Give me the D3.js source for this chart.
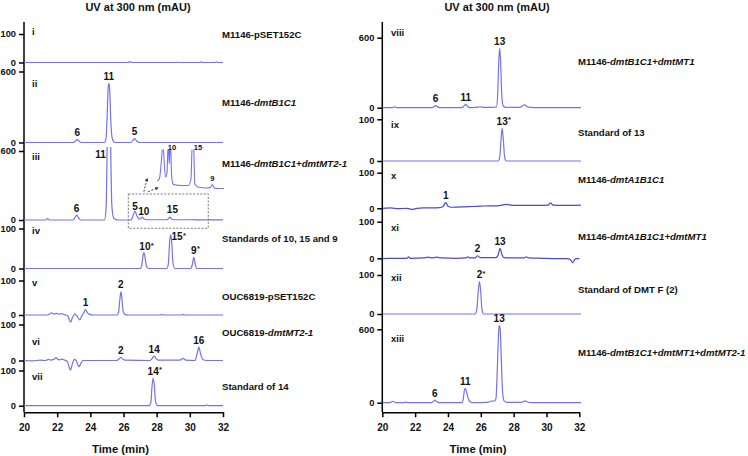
<!DOCTYPE html>
<html><head><meta charset="utf-8">
<script src="https://cdn.jsdelivr.net/npm/d3@7"></script>
<style>
body{margin:0;background:#fff;}
svg text{font-family:"Liberation Sans",Arial,sans-serif;font-weight:bold;fill:#111;}
</style></head><body>
<svg id="c" width="748" height="456"></svg>
<script>
// ---------------- DATA (time in min, absorbance in mAU) ----------------
const timeTicks = [20, 22, 24, 26, 28, 30, 32];
const romanLabels = ["i","ii","iii","iv","v","vi","vii","viii","ix","x","xi","xii","xiii"];
const sampleNames = [
  "M1146-pSET152C",
  "M1146-*dmtB1C1*",
  "M1146-*dmtB1C1+dmtMT2-1*",
  "Standards of 10, 15 and 9",
  "OUC6819-pSET152C",
  "OUC6819-*dmtMT2-1*",
  "Standard of 14",
  "M1146-*dmtB1C1+dmtMT1*",
  "Standard of 13",
  "M1146-*dmtA1B1C1*",
  "M1146-*dmtA1B1C1+dmtMT1*",
  "Standard of DMT F (2)",
  "M1146-*dmtB1C1+dmtMT1+dmtMT2-1*"
];
const yTickMax = [100, 600, 600, 100, 100, 100, 100, 600, 100, 100, 100, 100, 600];

const trace_i = [[20,0],[26.25,0],[26.38,2.5],[26.5,0],[29.2,0],[29.27,1.5],[29.35,0],[30.6,0],[30.7,2.5],[30.8,0],[31.5,0],[31.6,2],[31.7,0],[32,0]];
const trace_ii = [[20,0],[23.0,0],[23.1,12],[23.21,25],[23.32,12],[23.45,0],[24.85,0],[24.95,40],[25.02,250],[25.08,470],[25.12,500],[25.17,440],[25.23,200],[25.3,50],[25.4,8],[25.5,0],[26.45,0],[26.57,18],[26.67,32],[26.78,15],[26.9,2],[27.0,0],[32,0]];
const trace_iii = [[20,0],[21.3,0],[21.42,12],[21.55,0],[22.95,0],[23.07,20],[23.17,43],[23.28,20],[23.42,0],[24.85,0],[24.95,100],[25.02,700],[25.08,1400],[25.12,1500],[25.17,1300],[25.23,600],[25.3,120],[25.4,20],[25.5,5],[25.7,0],[26.45,0],[26.57,35],[26.69,78],[26.8,40],[26.92,10],[27.02,12],[27.13,25],[27.25,8],[27.4,2],[28.6,2],[28.7,10],[28.8,25],[28.9,8],[29.05,2],[30.2,2],[30.26,4],[30.35,1],[32,1]];
const trace_iv = [[20,0],[27.0,0],[27.1,8],[27.17,30],[27.23,40],[27.3,28],[27.38,6],[27.5,0],[28.6,0],[28.7,10],[28.78,65],[28.84,85],[28.9,70],[28.98,15],[29.1,0],[30.05,0],[30.15,10],[30.24,28],[30.32,12],[30.42,0],[32,0]];
const trace_v = [[20,0],[21.4,0],[21.55,3],[21.67,6],[21.8,3],[21.97,5],[22.12,2],[22.27,4],[22.45,1],[22.65,-3],[22.74,-15],[22.81,-21],[22.9,-10],[23.0,0],[23.07,3],[23.18,-2],[23.3,-11],[23.37,-14],[23.47,-4],[23.6,6],[23.71,16],[23.82,7],[23.95,2],[24.2,0],[25.6,0],[25.7,8],[25.78,45],[25.84,67],[25.9,50],[25.98,10],[26.1,1],[26.3,0],[28.2,0],[28.3,2],[28.4,0],[29.5,0],[29.6,2],[29.7,0],[32,0]];
const trace_vi = [[20,0],[20.5,-1],[21.0,1],[21.3,0],[21.47,3],[21.6,1],[21.8,3],[21.93,8],[22.05,3],[22.15,2],[22.27,4],[22.45,1],[22.62,-3],[22.72,-18],[22.81,-27],[22.9,-12],[23.0,1],[23.07,3],[23.17,-3],[23.27,-14],[23.33,-17],[23.43,-8],[23.55,0],[24.0,0],[25.6,0],[25.75,5],[25.84,9],[25.95,4],[26.1,1],[27.6,0],[27.75,7],[27.85,12.5],[27.95,6],[28.1,1],[29.4,1],[29.6,6],[29.75,1],[30.3,0],[30.42,15],[30.54,37],[30.65,18],[30.8,2],[31.0,0],[32,0]];
const trace_vii = [[20,0],[27.55,0],[27.65,10],[27.72,55],[27.79,78],[27.86,58],[27.93,12],[28.05,0],[30.95,0],[31.05,2.5],[31.15,0],[32,0]];
const trace_viii = [[20,0],[20.6,0],[20.75,8],[20.9,0],[23.05,0],[23.15,10],[23.25,17],[23.35,8],[23.5,0],[24.85,0],[24.97,15],[25.08,29],[25.18,14],[25.32,0],[25.7,2],[25.95,8],[26.2,3],[26.7,2],[26.85,6],[26.95,5],[27.03,120],[27.1,420],[27.15,509],[27.2,420],[27.27,130],[27.35,20],[27.5,3],[28.4,2],[28.58,20],[28.68,25],[28.8,10],[29.0,2],[29.5,0],[32.1,0]];
const trace_ix = [[20,0],[27.05,0],[27.15,8],[27.23,50],[27.3,78],[27.37,52],[27.45,10],[27.55,0],[32.1,0]];
const trace_x = [[20,0],[20.5,1],[21.0,-1],[21.5,0],[21.83,-3],[22.1,0],[22.5,1],[23.0,1],[23.5,2],[23.7,5],[23.87,16],[24.0,6],[24.2,3],[25.0,4],[25.5,5],[26.0,6],[26.5,7],[27.0,7],[27.55,11],[28.0,8],[28.5,8],[29.0,8],[29.5,8],[30.1,9],[30.25,15],[30.4,9],[31.0,8],[32.1,9]];
const trace_xi = [[20,-1],[20.4,0],[21.0,0],[21.5,0],[21.6,4],[21.7,0],[22.5,1],[22.8,3],[23.0,1],[23.3,3],[23.6,1],[24.5,0],[25.1,1],[25.2,4],[25.35,1],[25.65,1],[25.8,7],[25.95,2],[26.9,2],[27.05,8],[27.17,27],[27.29,10],[27.4,2],[28.0,1],[28.65,1],[28.77,4],[28.9,1],[29.8,0],[30.5,-1],[31.3,-1],[31.5,-6],[31.6,-12],[31.7,-4],[31.8,-1],[32.0,-1]];
const trace_xii = [[20,0],[25.65,0],[25.75,10],[25.85,60],[25.92,83],[25.99,60],[26.07,12],[26.17,0],[32.1,0]];
const trace_xiii = [[20,0],[20.45,0],[20.65,12],[20.85,0],[21.3,0],[21.43,5],[21.55,0],[23.0,0],[23.1,10],[23.2,22],[23.3,10],[23.45,0],[24.85,0],[24.93,30],[25.0,100],[25.05,118],[25.12,95],[25.22,40],[25.35,8],[25.5,0],[26.4,2],[26.65,14],[26.8,12],[26.92,30],[27.0,250],[27.08,560],[27.12,635],[27.18,600],[27.25,350],[27.33,80],[27.42,15],[27.6,3],[28.0,2],[28.1,5],[28.2,2],[28.5,3],[28.7,15],[28.85,6],[29.1,1],[29.5,0],[32.1,0]];
// magnified inset of trace iii (26.2-31.1 min)
const trace_iii_inset = [[26.23,8],[26.4,10],[26.56,30],[26.66,48],[26.74,30],[26.85,12],[26.95,15],[27.05,48],[27.12,25],[27.2,48],[27.3,12],[27.4,5],[27.6,4],[28.0,3.5],[28.5,3.5],[28.7,10],[28.8,48],[28.88,48],[28.98,5],[29.2,2],[29.8,1],[30.1,1.5],[30.25,4.5],[30.4,1],[30.7,0.5],[31.1,0.5]];

// peak labels: [time, mAU, text]
const peaks_ii = [[23.21,25,"6"],[25.12,500,"11"],[26.67,32,"5"]];
const peaks_iii = [[23.17,43,"6"],[25.12,600,"11"],[26.69,78,"5"],[27.13,25,"10"],[28.8,25,"15"]];
const peaks_iv = [[27.23,40,"10*"],[28.84,85,"15*"],[30.24,28,"9*"]];
const peaks_v = [[23.71,16,"1"],[25.84,67,"2"]];
const peaks_vi = [[25.84,9,"2"],[27.85,12.5,"14"],[30.54,37,"16"]];
const peaks_vii = [[27.79,78,"14*"]];
const peaks_viii = [[23.25,17,"6"],[25.08,29,"11"],[27.15,509,"13"]];
const peaks_ix = [[27.3,78,"13*"]];
const peaks_x = [[23.87,16,"1"]];
const peaks_xi = [[25.8,7,"2"],[27.17,27,"13"]];
const peaks_xii = [[25.92,83,"2*"]];
const peaks_xiii = [[23.2,22,"6"],[25.05,118,"11"],[27.12,635,"13"]];
const peaks_inset = [[27.1,39,"10"],[28.84,39,"15"],[30.25,4.5,"9"]];

const traces = [trace_i,trace_ii,trace_iii,trace_iv,trace_v,trace_vi,trace_vii,trace_viii,trace_ix,trace_x,trace_xi,trace_xii,trace_xiii];
const peakSets = [peaks_ii,peaks_iii,peaks_iv,peaks_v,peaks_vi,peaks_vii,peaks_viii,peaks_ix,peaks_x,peaks_xi,peaks_xii,peaks_xiii];
const peakOwner = [1,2,3,4,5,6,7,8,9,10,11,12];

// ---------------- LAYOUT ----------------
const axisBottomY = 412.3, axisTopY = 22;
const panelOf =  [0,0,0,0,0,0,0,1,1,1,1,1,1];
const yZeroPx =  [62.5,142.5,220,268.5,315,360.5,405.7, 107.7,161,208.3,258.3,314,402.7];
const yTopPx =   [34,71.5,151,228.5,280.5,324.5,370.5, 37.7,119.3,172.7,221.7,275,329.3];
const romanY =   [32,84,157,231,283,342,377, 33,125,176,228,278,339];
const sampleY =  [35,103,164,239,297,333,387, 62,133,180,237,290,353];
const darkTrace = [false,false,false,false,false,false,false,false,false,true,true,false,false];
const labelNudge = {"2:11":[-3,10.5,"end"],"2:5":[0,2,"middle"],"2:10":[1.5,1,"middle"],"2:15":[2.5,-0.5,"middle"],"3:15*":[6.5,9,"middle"],"3:10*":[1,1,"middle"]};

const svg = d3.select("#c");
const xScales = [
  d3.scaleLinear().domain([20,32]).range([24,223]),
  d3.scaleLinear().domain([20,32]).range([382.3,579.3])
];
const axisX = [24, 382.3];
const sampleX = [222, 578];
const romanX = [32, 391];
const titleX = [138, 497];
const timeLabelX = [120.5, 478];
const colMain = "#7272f2", colDark = "#4848e3";

const defs = svg.append("defs");
defs.append("marker").attr("id","ah").attr("viewBox","0 0 6 6").attr("refX",5).attr("refY",3)
  .attr("markerWidth",4).attr("markerHeight",4).attr("orient","auto")
  .append("path").attr("d","M0,0L6,3L0,6Z").attr("fill","#333");

[0,1].forEach(p => {
  const x = xScales[p];
  svg.append("line").attr("x1",axisX[p]).attr("x2",axisX[p]).attr("y1",axisTopY).attr("y2",axisBottomY)
    .attr("stroke","#000").attr("stroke-width",1.5);
  const gx = svg.append("g").attr("transform",`translate(0,${axisBottomY})`)
    .call(d3.axisBottom(x).tickValues(timeTicks).tickSize(5).tickSizeOuter(0).tickPadding(7).tickFormat(d3.format("d")));
  gx.select(".domain").attr("stroke","#000").attr("stroke-width",1.5);
  gx.selectAll(".tick line").attr("stroke","#000").attr("stroke-width",1.5);
  gx.selectAll(".tick text").style("font-size","10px").style("font-family","Liberation Sans, Arial, sans-serif").style("font-weight","bold").attr("fill","#111");
  svg.append("text").attr("x",titleX[p]).attr("y",10.5).attr("text-anchor","middle").style("font-size","11px").text("UV at 300 nm (mAU)");
  svg.append("text").attr("x",timeLabelX[p]).attr("y",453).attr("text-anchor","middle").style("font-size","11.3px").text("Time (min)");
});

const yScales = [];
traces.forEach((data, k) => {
  const p = panelOf[k], x = xScales[p];
  const y = d3.scaleLinear().domain([0, yTickMax[k]]).range([yZeroPx[k], yTopPx[k]]);
  yScales.push(y);
  const gy = svg.append("g").attr("transform",`translate(${axisX[p]},0)`)
    .call(d3.axisLeft(y).tickValues([0, yTickMax[k]]).tickSize(5).tickPadding(3).tickFormat(d3.format("d")));
  gy.select(".domain").remove();
  gy.selectAll(".tick line").attr("stroke","#000").attr("stroke-width",1.5);
  gy.selectAll(".tick text").style("font-size","9.3px").style("font-family","Liberation Sans, Arial, sans-serif").style("font-weight","bold").attr("fill","#111");

  const cid = "clip"+k;
  defs.append("clipPath").attr("id",cid).append("rect")
    .attr("x", axisX[p]).attr("y", yTopPx[k]-4).attr("width", 220).attr("height", yZeroPx[k]-yTopPx[k]+40);
  const line = d3.line().x(d=>x(d[0])).y(d=>y(d[1])).curve(d3.curveMonotoneX);
  svg.append("path").datum(data).attr("d",line).attr("fill","none")
    .attr("stroke", darkTrace[k] ? colDark : colMain).attr("stroke-width",1.2)
    .attr("stroke-linejoin","round").attr("clip-path",`url(#${cid})`);

  svg.append("text").attr("x",romanX[p]).attr("y",romanY[k]).attr("dy","0.35em")
    .style("font-size","9.5px").attr("fill","#222").text(romanLabels[k]);

  const st = svg.append("text").attr("x",sampleX[p]).attr("y",sampleY[k]).attr("dy","0.35em").style("font-size","9.6px");
  sampleNames[k].split("*").forEach((seg,i) => {
    if (seg.length) st.append("tspan").style("font-style", i%2 ? "italic" : "normal").text(seg);
  });
});

function drawPeakLabel(x, y, d, key, fs) {
  const nudge = labelNudge[key] || [0,0,"middle"];
  const star = d[2].endsWith("*");
  const num = star ? d[2].slice(0,-1) : d[2];
  const px = x(d[0]) + nudge[0], py = y(d[1]) - 3.5 + nudge[1];
  const t = svg.append("text").attr("x",px).attr("y",py).attr("text-anchor",nudge[2]).style("font-size",fs+"px").text(num);
  if (star) {
    const w = t.node().getComputedTextLength();
    svg.append("text").attr("x",px + w/2 + 0.3).attr("y",py - 2.5).style("font-size",(fs*0.75)+"px").text("*");
  }
}
peakSets.forEach((set, j) => {
  const k = peakOwner[j];
  const x = xScales[panelOf[k]], y = yScales[k];
  set.forEach(d => drawPeakLabel(x, y, d, k+":"+d[2], 10));
});

// inset of trace iii
const xIn = d3.scaleLinear().domain([26.23,31.1]).range([157,224]);
const yIn = d3.scaleLinear().domain([0,39]).range([189,150]);
defs.append("clipPath").attr("id","clipIn").append("rect").attr("x",150).attr("y",149.5).attr("width",80).attr("height",50);
svg.append("path").datum(trace_iii_inset)
  .attr("d", d3.line().x(d=>xIn(d[0])).y(d=>yIn(d[1])).curve(d3.curveMonotoneX))
  .attr("fill","none").attr("stroke",colMain).attr("stroke-width",1.1).attr("clip-path","url(#clipIn)");
const inNudge = {"10":[3,3],"15":[5,3],"9":[0,0]};
peaks_inset.forEach(d => {
  svg.append("text").attr("x",xIn(d[0])+inNudge[d[2]][0]).attr("y",yIn(d[1])-3.5+inNudge[d[2]][1])
    .attr("text-anchor","middle").style("font-size","7.5px").text(d[2]);
});
const xL = xScales[0], yIII = yScales[2];
const boxT = [26.29, 31.11], boxV = [-72, 226];
svg.append("rect").attr("x",xL(boxT[0])).attr("y",yIII(boxV[1]))
  .attr("width",xL(boxT[1])-xL(boxT[0])).attr("height",yIII(boxV[0])-yIII(boxV[1]))
  .attr("fill","none").attr("stroke","#666").attr("stroke-width",0.9).attr("stroke-dasharray","2,1.6");
const arrows = [[[27.23,246],[27.43,362]],[[27.49,246],[28.09,281]]];
arrows.forEach(a => {
  svg.append("line").attr("x1",xL(a[0][0])).attr("y1",yIII(a[0][1])).attr("x2",xL(a[1][0])).attr("y2",yIII(a[1][1]))
    .attr("stroke","#333").attr("stroke-width",0.9).attr("stroke-dasharray","2,1.5").attr("marker-end","url(#ah)");
});
</script>
</body></html>
